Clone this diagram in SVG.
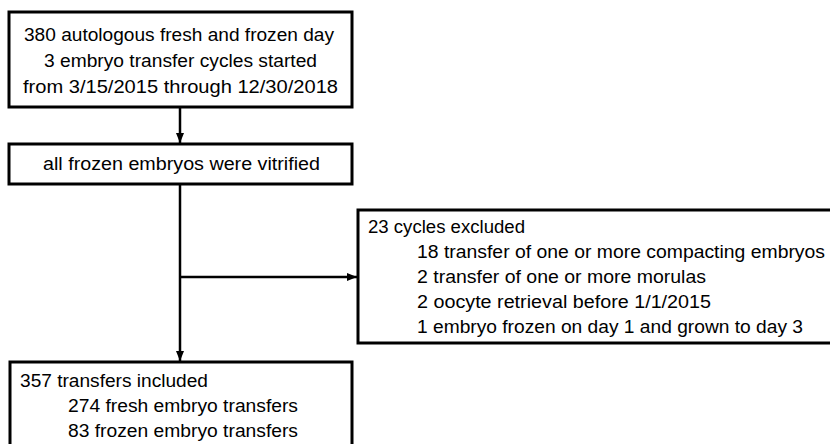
<svg xmlns="http://www.w3.org/2000/svg" width="830" height="444" viewBox="0 0 830 444">
<style>
.box{fill:#fff;stroke:#000;stroke-width:3}
.t{font-family:"Liberation Sans",Arial,sans-serif;font-size:17.5px;fill:#000}
.c{text-anchor:middle}
.ln{stroke:#000;stroke-width:2.5;fill:none}
</style>
<defs>
<marker id="ah" markerUnits="userSpaceOnUse" markerWidth="10" markerHeight="10" viewBox="0 0 10 10" refX="10" refY="5" orient="auto">
<path d="M0,1 L10,5 L0,9 Z" fill="#000"/>
</marker>
</defs>
<rect width="830" height="444" fill="#fff"/>
<g id="connectors">
<line class="ln" x1="180" y1="107" x2="180" y2="143" marker-end="url(#ah)"/>
<line class="ln" x1="180" y1="184" x2="180" y2="361" marker-end="url(#ah)"/>
<line class="ln" x1="180" y1="277" x2="357" y2="277" marker-end="url(#ah)"/>
</g>
<g id="start">
<rect class="box" x="9" y="12" width="343" height="95"/>
<text class="t c" x="179" y="41" textLength="310" lengthAdjust="spacingAndGlyphs">380 autologous fresh and frozen day</text>
<text class="t c" x="180.5" y="67" textLength="273" lengthAdjust="spacingAndGlyphs">3 embryo transfer cycles started</text>
<text class="t c" x="180.5" y="93" textLength="315" lengthAdjust="spacingAndGlyphs">from 3/15/2015 through 12/30/2018</text>
</g>
<g id="vitrified">
<rect class="box" x="9" y="144" width="343" height="40"/>
<text class="t c" x="181.5" y="170" textLength="277" lengthAdjust="spacingAndGlyphs">all frozen embryos were vitrified</text>
</g>
<g id="excluded">
<rect class="box" x="358" y="210" width="480" height="133"/>
<text class="t" x="368" y="233" textLength="157" lengthAdjust="spacingAndGlyphs">23 cycles excluded</text>
<text class="t" x="417" y="258" textLength="408" lengthAdjust="spacingAndGlyphs">18 transfer of one or more compacting embryos</text>
<text class="t" x="417" y="283" textLength="289" lengthAdjust="spacingAndGlyphs">2 transfer of one or more morulas</text>
<text class="t" x="417" y="308" textLength="294" lengthAdjust="spacingAndGlyphs">2 oocyte retrieval before 1/1/2015</text>
<text class="t" x="417" y="333" textLength="386" lengthAdjust="spacingAndGlyphs">1 embryo frozen on day 1 and grown to day 3</text>
</g>
<g id="included">
<rect class="box" x="10" y="362" width="342" height="100"/>
<text class="t" x="20" y="387" textLength="188" lengthAdjust="spacingAndGlyphs">357 transfers included</text>
<text class="t" x="68" y="412" textLength="230" lengthAdjust="spacingAndGlyphs">274 fresh embryo transfers</text>
<text class="t" x="68" y="437" textLength="230" lengthAdjust="spacingAndGlyphs">83 frozen embryo transfers</text>
</g>
</svg>
